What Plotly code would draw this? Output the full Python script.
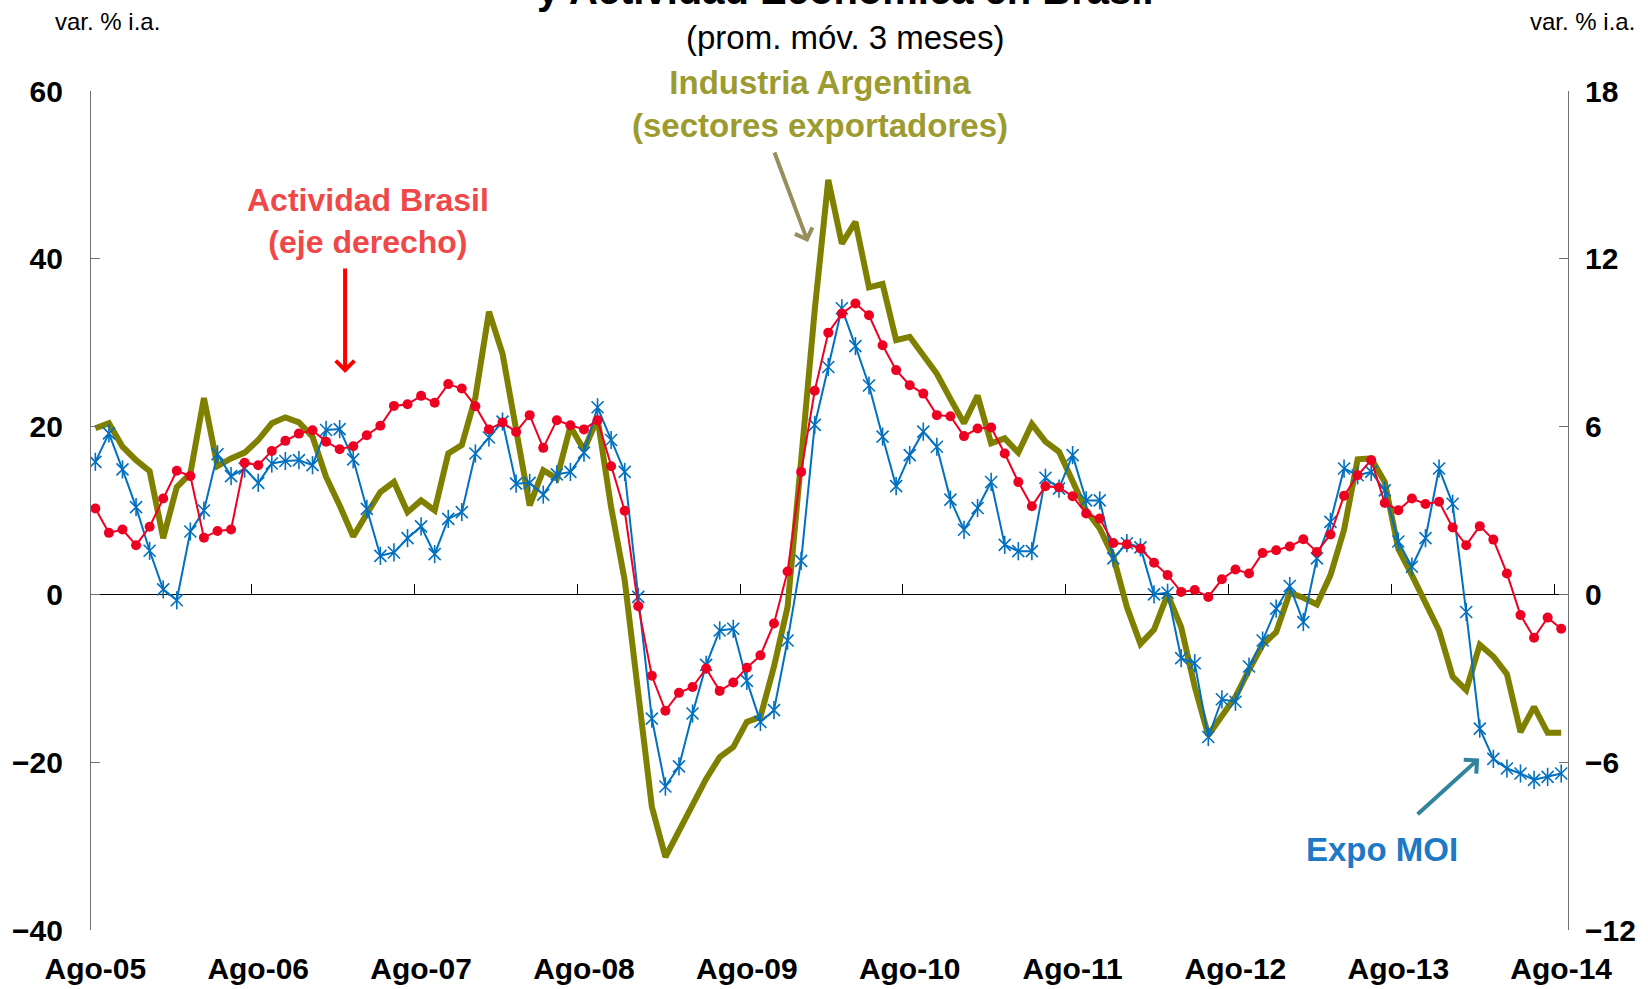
import plotly.graph_objects as go

# ---------------- data ----------------
mes_abbr = ["Ene", "Feb", "Mar", "Abr", "May", "Jun", "Jul", "Ago", "Sep", "Oct", "Nov", "Dic"]
months = []
for k in range(109):
    m = (7 + k) % 12
    yy = 5 + (7 + k) // 12
    months.append(f"{mes_abbr[m]}-{yy:02d}")

# Industria Argentina (sectores exportadores), var. % i.a., eje izquierdo
industria = [19.8, 20.4, 17.6, 16.0, 14.7, 6.7, 12.8, 14.4, 23.4, 15.3,
             16.2, 16.9, 18.4, 20.4, 21.1, 20.5, 18.8, 14.0, 10.6, 6.9,
             9.6, 12.2, 13.4, 9.8, 11.2, 10.0, 16.8, 17.8, 23.5, 33.7,
             28.7, 19.5, 10.6, 14.8, 13.8, 20.0, 17.2, 21.0, 10.4, 1.7,
             -11.8, -25.3, -31.3, -28.1, -25.0, -22.0, -19.4, -18.2, -15.2, -14.6,
             -8.6, -1.5, 16.0, 33.9, 49.4, 41.8, 44.4, 36.6, 37.0, 30.3,
             30.7, 28.5, 26.3, 23.3, 20.4, 23.7, 18.0, 18.6, 16.9, 20.3,
             18.2, 17.0, 13.6, 10.0, 7.85, 4.5, -1.5, -5.9, -4.2, 0.0,
             -3.9, -11.0, -16.8, -14.4, -12.2, -9.0, -6.0, -4.5, 0.2, -0.4,
             -1.2, 2.3, 7.7, 16.1, 16.2, 13.4, 5.4, 2.3, -1.1, -4.3,
             -9.8, -11.4, -6.0, -7.4, -9.5, -16.4, -13.4, -16.5, -16.5]

# Expo MOI, var. % i.a., eje izquierdo
expo_moi = [15.8, 19.2, 14.9, 10.4, 5.2, 0.6, -0.7, 7.5, 10.0, 16.7,
            14.1, 15.0, 13.3, 15.6, 15.9, 16.0, 15.4, 19.6, 19.7, 16.1,
            10.2, 4.6, 5.0, 6.7, 8.1, 4.8, 9.0, 9.8, 16.8, 18.7,
            20.6, 13.2, 13.3, 11.9, 14.3, 14.6, 16.9, 22.3, 18.4, 14.6,
            -0.3, -14.8, -22.9, -20.5, -14.2, -8.4, -4.3, -4.1, -10.3, -15.2,
            -13.8, -5.5, 4.0, 20.2, 27.1, 34.1, 29.6, 24.9, 18.8, 12.9,
            16.6, 19.4, 17.6, 11.3, 7.7, 10.3, 13.4, 5.9, 5.15, 5.15,
            13.9, 12.6, 16.6, 11.2, 11.2, 4.3, 6.1, 5.6, 0.0, 0.2,
            -7.6, -8.2, -17.0, -12.5, -12.8, -8.6, -5.5, -1.7, 1.0, -3.3,
            4.3, 8.65, 15.0, 14.2, 14.6, 12.4, 6.3, 3.3, 6.7, 15.0,
            10.8, -2.1, -16.0, -19.6, -20.75, -21.35, -22.1, -21.75, -21.35]

# Actividad Brasil, var. % i.a., eje derecho
actividad_brasil = [3.07, 2.20, 2.32, 1.76, 2.42, 3.43, 4.42, 4.23, 2.03, 2.27,
                    2.32, 4.71, 4.62, 5.13, 5.49, 5.75, 5.87, 5.46, 5.19, 5.30,
                    5.69, 6.03, 6.74, 6.80, 7.10, 6.85, 7.52, 7.36, 6.73, 5.90,
                    6.15, 5.81, 6.41, 5.24, 6.23, 6.05, 5.90, 6.23, 4.58, 2.99,
                    -0.42, -2.91, -4.16, -3.52, -3.31, -2.65, -3.45, -3.15, -2.62, -2.18,
                    -1.04, 0.82, 4.38, 7.28, 9.36, 10.04, 10.40, 9.98, 8.91, 8.02,
                    7.48, 7.18, 6.41, 6.37, 5.66, 5.93, 5.97, 5.04, 4.02, 3.15,
                    3.87, 3.82, 3.51, 2.89, 2.71, 1.84, 1.79, 1.64, 1.13, 0.69,
                    0.09, 0.16, -0.09, 0.54, 0.89, 0.75, 1.48, 1.58, 1.71, 1.97,
                    1.52, 2.14, 3.53, 4.26, 4.80, 3.27, 3.01, 3.43, 3.23, 3.31,
                    2.39, 1.76, 2.44, 1.96, 0.75, -0.74, -1.55, -0.83, -1.23]

tick_labels = ["Ago-05", "Ago-06", "Ago-07", "Ago-08", "Ago-09",
               "Ago-10", "Ago-11", "Ago-12", "Ago-13", "Ago-14"]
left_ticks = [-40, -20, 0, 20, 40, 60]
right_ticks = [-12, -6, 0, 6, 12, 18]

# ---------------- figure ----------------
x_idx = list(range(len(months)))
label_pos = [months.index(t) for t in tick_labels]
boundary_ticks = [p - 0.5 for p in label_pos[1:]]

FONT = "Liberation Sans, Arial, sans-serif"
OLIVE = "#7F7F00"
BLUE = "#0070C0"
RED = "#EE0022"

fig = go.Figure()

fig.add_trace(go.Scatter(
    x=x_idx, y=industria, mode="lines", name="Industria Argentina",
    line=dict(color=OLIVE, width=6), hoverinfo="skip"))

fig.add_trace(go.Scatter(
    x=x_idx, y=expo_moi, mode="lines+markers", name="Expo MOI",
    line=dict(color=BLUE, width=2),
    marker=dict(symbol="x-thin-open", size=12, color=BLUE,
                line=dict(color=BLUE, width=1.6)),
    hoverinfo="skip"))
fig.add_trace(go.Scatter(
    x=x_idx, y=expo_moi, mode="markers", showlegend=False,
    marker=dict(symbol="line-ns-open", size=13, color=BLUE,
                line=dict(color=BLUE, width=1.6)),
    hoverinfo="skip"))

fig.add_trace(go.Scatter(
    x=x_idx, y=actividad_brasil, mode="lines+markers", name="Actividad Brasil",
    yaxis="y2",
    line=dict(color=RED, width=2),
    marker=dict(symbol="circle", size=10, color=RED),
    hoverinfo="skip"))

# helper trace so the tick-mark axis on the zero line is drawn
fig.add_trace(go.Scatter(x=[None], y=[None], xaxis="x2", showlegend=False,
                         hoverinfo="skip"))

xr = [-0.32, len(months) - 0.5]

fig.update_layout(
    template="none",
    width=1648, height=989,
    margin=dict(l=90.5, r=80, t=91, b=59, autoexpand=False),
    paper_bgcolor="white", plot_bgcolor="white",
    showlegend=False,
    font=dict(family=FONT, color="black"),
    xaxis=dict(
        range=xr, showgrid=False, zeroline=False, showline=False,
        tickmode="array", tickvals=label_pos, ticktext=tick_labels,
        ticks="", tickfont=dict(family=FONT, size=30, weight="bold"),
        ticklabelstandoff=18, automargin=False,
    ),
    xaxis2=dict(
        overlaying="x", anchor="free", position=0.4, range=xr,
        showgrid=False, zeroline=False, showline=False,
        tickmode="array", tickvals=boundary_ticks, ticks="inside",
        ticklen=10, tickcolor="black", tickwidth=1.3, showticklabels=False,
        automargin=False,
    ),
    yaxis=dict(
        range=[-40, 60], tickmode="array", tickvals=left_ticks,
        showgrid=False, zeroline=True, zerolinecolor="black", zerolinewidth=1.3,
        showline=True, linecolor="#707070", linewidth=1.2,
        ticks="inside", ticklen=9, tickcolor="#707070", tickwidth=1.2,
        tickfont=dict(family=FONT, size=30, weight="bold"),
        ticklabelstandoff=21, automargin=False,
    ),
    yaxis2=dict(
        range=[-12, 18], tickmode="array", tickvals=right_ticks,
        overlaying="y", side="right", anchor="x",
        showgrid=False, zeroline=False,
        showline=True, linecolor="#707070", linewidth=1.2,
        ticks="inside", ticklen=9, tickcolor="#707070", tickwidth=1.2,
        tickfont=dict(family=FONT, size=30, weight="bold"),
        ticklabelstandoff=10, automargin=False,
    ),
)

annotations = [
    dict(text="<b>y Actividad Económica en Brasil</b>", xref="paper", yref="paper",
         x=0.5105, y=1.0915, xanchor="center", yanchor="bottom", showarrow=False,
         font=dict(family=FONT, size=40, color="black")),
    dict(text="(prom. móv. 3 meses)", xref="paper", yref="paper",
         x=0.5105, y=1.0641, xanchor="center", yanchor="middle", showarrow=False,
         font=dict(family=FONT, size=33, color="black")),
    dict(text="var. % i.a.", xref="paper", yref="paper",
         x=0.0112, y=1.0832, xanchor="center", yanchor="middle", showarrow=False,
         font=dict(family=FONT, size=24, color="black")),
    dict(text="var. % i.a.", xref="paper", yref="paper",
         x=1.0095, y=1.0832, xanchor="center", yanchor="middle", showarrow=False,
         font=dict(family=FONT, size=24, color="black")),
    dict(text="<b>Industria Argentina<br>(sectores exportadores)</b>",
         x=53.36, y=58.5, xref="x", yref="y", showarrow=False,
         xanchor="center", yanchor="middle",
         font=dict(family=FONT, size=33, color="#9B9B30")),
    dict(text="<b>Actividad Brasil<br>(eje derecho)</b>",
         x=20.1, y=44.5, xref="x", yref="y", showarrow=False,
         xanchor="center", yanchor="middle",
         font=dict(family=FONT, size=32, color="#F04848")),
    dict(text="<b>Expo MOI</b>",
         x=94.8, y=-30.4, xref="x", yref="y", showarrow=False,
         xanchor="center", yanchor="middle",
         font=dict(family=FONT, size=33, color="#1D78C6")),
    # arrows
    dict(text="", x=18.4, y=26.4, xref="x", yref="y", showarrow=True,
         ax=0, ay=-106, arrowhead=4, arrowsize=0.9, arrowwidth=4,
         arrowcolor="#FF0000", standoff=0),
    dict(text="", x=52.5, y=42.0, xref="x", yref="y", showarrow=True,
         ax=-34, ay=-91, arrowhead=4, arrowsize=0.9, arrowwidth=4,
         arrowcolor="#968E5C", standoff=0),
    dict(text="", x=101.95, y=-19.56, xref="x", yref="y", showarrow=True,
         ax=-63, ay=57, arrowhead=4, arrowsize=0.9, arrowwidth=4,
         arrowcolor="#31849B", standoff=0),
]
fig.update_layout(annotations=annotations)

fig.write_html("out.html", config={"displayModeBar": False},
               post_script="document.body.style.margin='0';document.body.style.overflow='hidden';")
